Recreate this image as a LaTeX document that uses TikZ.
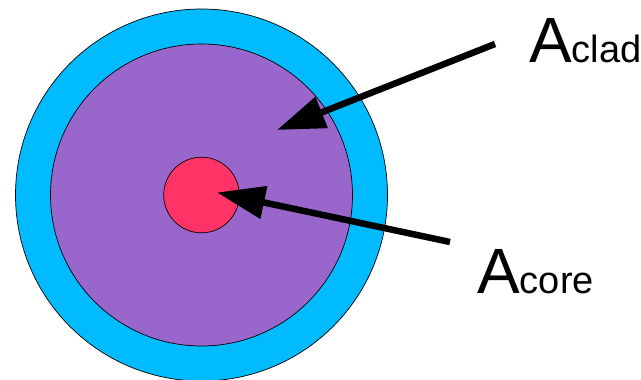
\documentclass[tikz,border=0pt]{standalone}
\usepackage{fontspec}
\setmainfont{Liberation Sans}
\usetikzlibrary{arrows.meta}
\definecolor{cladblue}{HTML}{00BBFF}
\definecolor{bufpurple}{HTML}{9966CC}
\definecolor{corered}{HTML}{FF3366}
\tikzset{
  disc/.style={circle, draw=black, line width=0.7pt, inner sep=0pt},
  pointer/.style={draw=black, line width=6.5pt, -{Triangle[length=48pt, width=32pt]}},
  lbl/.style={inner sep=0pt, anchor=base west},
  bigA/.style={font=\fontsize{64}{64}\selectfont},
}
\newcommand{\smalltxt}[1]{{\fontsize{38}{38}\selectfont #1}}
\begin{document}
\begin{tikzpicture}[x=1pt, y=-1pt]
  \useasboundingbox (0,0) rectangle (641,380);
  \node[disc, fill=cladblue, minimum size=372pt] (clad) at (201.5,195) {};
  \node[disc, fill=bufpurple, minimum size=302pt] (buffer) at (201.5,195) {};
  \node[disc, fill=corered, minimum size=75.6pt] (core) at (201.5,195) {};
  \node[lbl] (lclad) at (529,63) {\fontsize{64}{64}\selectfont A\smalltxt{clad}};
  \node[lbl] (lcore) at (477,293) {\fontsize{64}{64}\selectfont A\smalltxt{core}};
  \coordinate (cladtail) at (495,44);
  \coordinate (cladtip) at (277,130);
  \coordinate (coretail) at (450,242);
  \coordinate (coretip) at (217,192.5);
  \draw[pointer] (cladtail) -- (cladtip);
  \draw[pointer] (coretail) -- (coretip);
\end{tikzpicture}
\end{document}
